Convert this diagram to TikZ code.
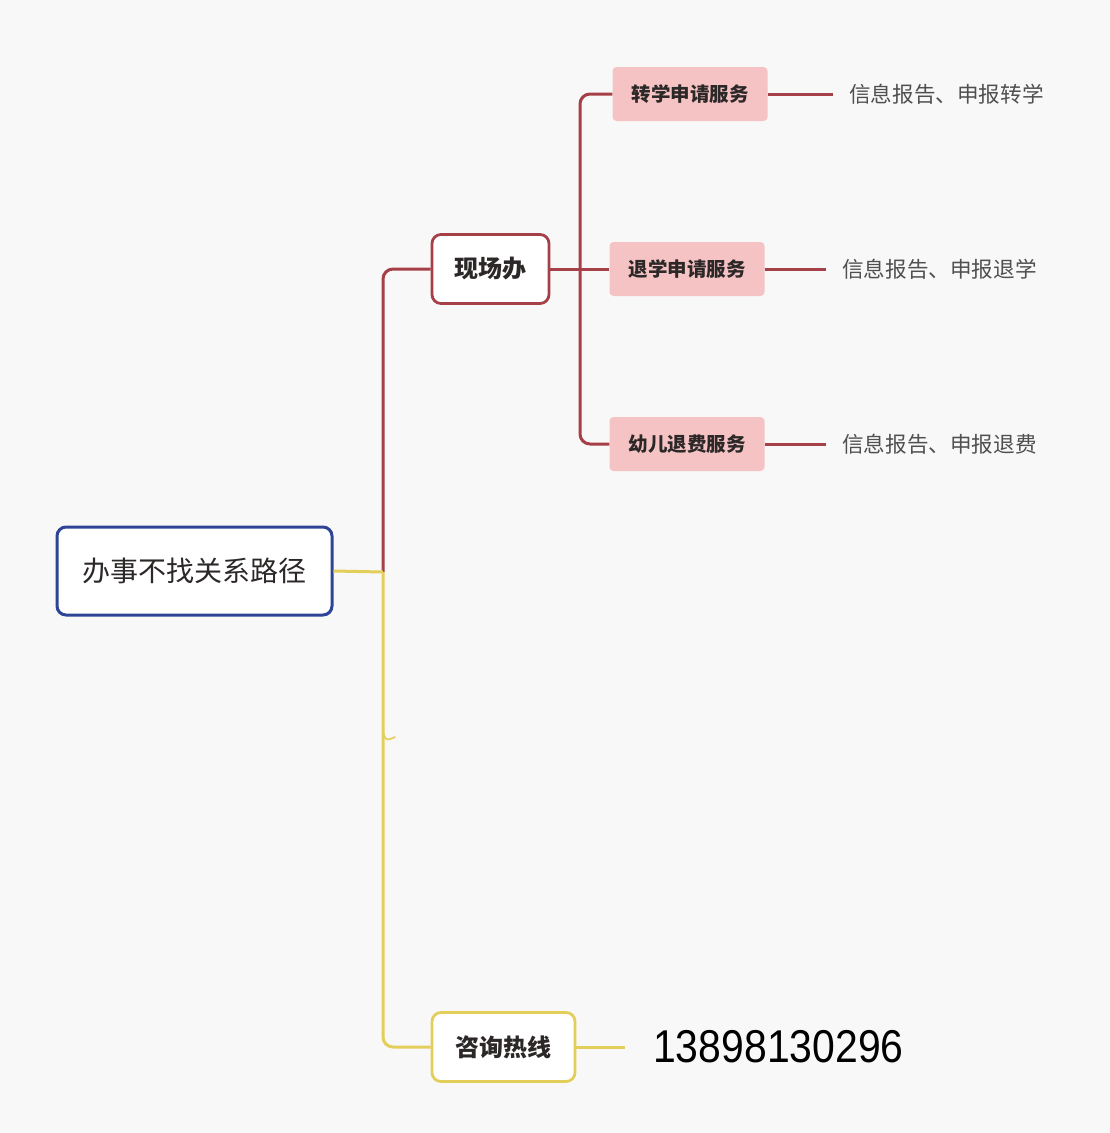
\documentclass[tikz,border=0pt]{standalone}
\usepackage{fontspec}
\setmainfont{Noto Sans CJK SC}
\newfontfamily\numfont[FakeStretch=0.89]{Liberation Sans}
\usetikzlibrary{calc}
\definecolor{rootblue}{RGB}{46,69,150}
\definecolor{branchred}{RGB}{166,64,72}
\definecolor{leafpink}{RGB}{245,195,196}
\definecolor{lineyellow}{RGB}{228,206,90}
\definecolor{paper}{RGB}{248,248,248}
\definecolor{inktext}{RGB}{45,40,40}
\definecolor{leafgray}{RGB}{80,80,80}

\begin{document}
\begin{tikzpicture}[x=1pt,y=1pt,yscale=-1,xscale=1,
  rootbox/.style={draw=rootblue,line width=3,fill=white,rounded corners=9,minimum width=275,minimum height=88,text=inktext,font=\fontsize{28}{30}\selectfont},
  midbox/.style={fill=white,line width=2.8,rounded corners=9,minimum height=69,text=inktext,font=\bfseries\fontsize{24}{26}\selectfont},
  pinkbox/.style={fill=leafpink,rounded corners=4,minimum width=155,minimum height=54,text=inktext,font=\bfseries\fontsize{19.5}{22}\selectfont},
  leaftext/.style={anchor=west,inner xsep=16,text=leafgray,font=\fontsize{21.6}{23}\selectfont},
  redline/.style={draw=branchred,line width=3,rounded corners=10},
  yellowline/.style={draw=lineyellow,line width=3,rounded corners=10}]
                \fill[paper] (0,0) rectangle (1110,1133);
                \useasboundingbox (0,0) rectangle (1110,1133);
                %Shape: Rounded Rect [root]
                \node[rootbox] (root) at (194.5,571) {办事不找关系路径};
                %Shape: Rounded Rect [branches]
                \node[midbox,draw=branchred,minimum width=117] (xcb) at (490.5,269) {现场办};
                \node[midbox,draw=lineyellow,minimum width=143] (zxrx) at (503.5,1047) {咨询热线};
                %Shape: Rect [services]
                \node[pinkbox] (zhuanxue) at (690,94) {转学申请服务};
                \node[pinkbox] (tuixue) at (687,269) {退学申请服务};
                \node[pinkbox] (tuifei) at (687,444) {幼儿退费服务};
                %Text [leaves]
                \node[leaftext] (zhuanxueleaf) at (833,94) {信息报告、申报转学};
                \node[leaftext] (tuixueleaf) at (826,269) {信息报告、申报退学};
                \node[leaftext] (tuifeileaf) at (826,444) {信息报告、申报退费};
                \node[anchor=west,inner xsep=28,text=black,font=\numfont\fontsize{46}{48}\selectfont] (phone) at (625,1047) {13898130296};
                %Straight Lines [forks]
                \coordinate (fork) at (383,572);
                \coordinate (subfork) at (580,269);
                \draw[redline] (fork) |- (xcb.west);
                \draw[yellowline] (fork) |- (zxrx.west);
                \draw[yellowline] (root.east) -- (fork);
                \draw[lineyellow,line width=1.6,line cap=round] (383,732) .. controls (386,741) .. (395,737);
                \draw[redline] (xcb.east) -- (subfork);
                \draw[redline] (subfork) |- (zhuanxue.west);
                \draw[redline] (subfork) -- (tuixue.west);
                \draw[redline] (subfork) |- (tuifei.west);
                %Straight Lines [leaves]
                \draw[redline] (zhuanxue.east) -- (zhuanxueleaf.west);
                \draw[redline] (tuixue.east) -- (tuixueleaf.west);
                \draw[redline] (tuifei.east) -- (tuifeileaf.west);
                \draw[yellowline] (zxrx.east) -- (phone.west);
        \end{tikzpicture}
\end{document}
